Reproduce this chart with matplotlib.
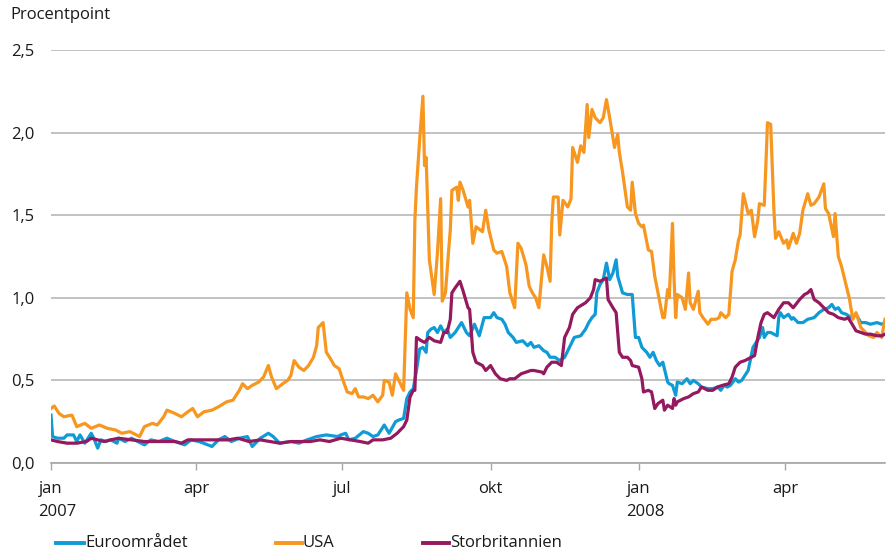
import matplotlib
matplotlib.use('Agg')
import matplotlib.pyplot as plt
from matplotlib.lines import Line2D
import pandas as pd

plt.rcParams['font.family'] = ['Open Sans', 'DejaVu Sans']

# ---------------- data ----------------
usa_dates = [
 "2007-01-01","2007-01-03","2007-01-06","2007-01-09","2007-01-14","2007-01-17","2007-01-22","2007-01-26",
 "2007-01-31","2007-02-05","2007-02-10","2007-02-14","2007-02-19","2007-02-25","2007-02-28","2007-03-05",
 "2007-03-08","2007-03-12","2007-03-14","2007-03-19","2007-03-23","2007-03-27","2007-03-30","2007-04-02",
 "2007-04-06","2007-04-11","2007-04-15","2007-04-20","2007-04-24","2007-04-28","2007-04-30","2007-05-03",
 "2007-05-06","2007-05-10","2007-05-13","2007-05-16","2007-05-18","2007-05-21","2007-05-25","2007-05-28",
 "2007-05-30","2007-06-01","2007-06-04","2007-06-07","2007-06-10","2007-06-13","2007-06-15","2007-06-16",
 "2007-06-19","2007-06-21","2007-06-23","2007-06-26","2007-06-29","2007-07-01","2007-07-04","2007-07-07",
 "2007-07-09","2007-07-11","2007-07-14","2007-07-17","2007-07-20","2007-07-23","2007-07-26","2007-07-27",
 "2007-07-30","2007-08-01","2007-08-03","2007-08-05","2007-08-08","2007-08-10","2007-08-12","2007-08-14",
 "2007-08-15","2007-08-16","2007-08-18","2007-08-20","2007-08-21","2007-08-22","2007-08-24","2007-08-27",
 "2007-08-29","2007-08-31","2007-09-01","2007-09-03","2007-09-05","2007-09-06","2007-09-07","2007-09-10",
 "2007-09-11","2007-09-12","2007-09-14","2007-09-17","2007-09-18","2007-09-20","2007-09-22","2007-09-26",
 "2007-09-28","2007-09-30","2007-10-03","2007-10-05","2007-10-08","2007-10-11","2007-10-13","2007-10-16",
 "2007-10-18","2007-10-20","2007-10-23","2007-10-25","2007-10-27","2007-10-29","2007-10-31","2007-11-03",
 "2007-11-05","2007-11-07","2007-11-08","2007-11-09","2007-11-12","2007-11-13","2007-11-15","2007-11-18",
 "2007-11-20","2007-11-21","2007-11-24","2007-11-26","2007-11-28","2007-11-30","2007-12-01","2007-12-03",
 "2007-12-05","2007-12-08","2007-12-10","2007-12-12","2007-12-14","2007-12-17","2007-12-19","2007-12-20",
 "2007-12-22","2007-12-25","2007-12-27","2007-12-28","2007-12-30","2008-01-01","2008-01-03","2008-01-04",
 "2008-01-07","2008-01-09","2008-01-11","2008-01-13","2008-01-16","2008-01-17","2008-01-19","2008-01-20",
 "2008-01-22","2008-01-23","2008-01-24","2008-01-25","2008-01-28","2008-01-30","2008-02-01","2008-02-02",
 "2008-02-04","2008-02-07","2008-02-08","2008-02-10","2008-02-13","2008-02-15","2008-02-18","2008-02-20",
 "2008-02-21","2008-02-24","2008-02-26","2008-02-28","2008-03-01","2008-03-03","2008-03-04","2008-03-06",
 "2008-03-09","2008-03-11","2008-03-13","2008-03-15","2008-03-16","2008-03-19","2008-03-20","2008-03-21",
 "2008-03-23","2008-03-25","2008-03-26","2008-03-28","2008-03-31","2008-04-02","2008-04-03","2008-04-06",
 "2008-04-08","2008-04-10","2008-04-12","2008-04-15","2008-04-17","2008-04-19","2008-04-22","2008-04-25",
 "2008-04-26","2008-04-28","2008-05-01","2008-05-02","2008-05-04","2008-05-06","2008-05-09","2008-05-11",
 "2008-05-13","2008-05-15","2008-05-18","2008-05-23","2008-05-26","2008-05-28","2008-05-31","2008-06-01",
 "2008-06-02"]
usa_values = [
 0.33,0.345,0.30,0.28,0.29,0.22,0.24,0.21,
 0.23,0.21,0.20,0.18,0.19,0.16,0.22,0.24,
 0.23,0.28,0.32,0.30,0.28,0.31,0.33,0.28,
 0.31,0.32,0.34,0.37,0.38,0.44,0.48,0.45,
 0.47,0.49,0.52,0.59,0.52,0.45,0.48,0.50,
 0.53,0.62,0.58,0.56,0.59,0.64,0.71,0.82,
 0.85,0.67,0.64,0.59,0.57,0.51,0.43,0.42,
 0.45,0.40,0.40,0.39,0.41,0.37,0.41,0.50,
 0.49,0.41,0.54,0.50,0.44,1.03,0.93,0.88,
 1.47,1.67,1.96,2.22,1.80,1.85,1.23,1.02,
 1.27,1.60,0.98,1.03,1.29,1.41,1.65,1.67,
 1.59,1.70,1.65,1.55,1.59,1.33,1.43,1.40,
 1.53,1.41,1.29,1.27,1.28,1.19,1.03,0.94,
 1.33,1.30,1.20,1.07,1.03,1.00,0.94,1.26,
 1.19,1.10,1.45,1.61,1.61,1.38,1.59,1.55,
 1.60,1.91,1.82,1.92,1.88,2.17,1.97,2.14,
 2.09,2.06,2.09,2.20,2.09,1.91,1.99,1.88,
 1.76,1.55,1.53,1.70,1.51,1.45,1.43,1.44,
 1.29,1.28,1.13,1.03,0.88,0.88,1.05,1.00,
 1.45,1.11,0.88,1.02,1.00,0.93,1.15,0.97,
 0.93,1.04,0.91,0.88,0.84,0.87,0.87,0.88,
 0.91,0.88,0.90,1.16,1.23,1.35,1.38,1.63,
 1.51,1.53,1.37,1.47,1.57,1.56,1.80,2.06,
 2.05,1.53,1.36,1.40,1.33,1.35,1.30,1.39,
 1.33,1.39,1.53,1.63,1.56,1.57,1.61,1.69,
 1.54,1.51,1.37,1.51,1.25,1.19,1.07,0.99,
 0.87,0.91,0.82,0.77,0.76,0.79,0.76,0.82,
 0.87]

euro_dates = [
 "2007-01-01","2007-01-02","2007-01-05","2007-01-09","2007-01-11","2007-01-15","2007-01-17","2007-01-19",
 "2007-01-22","2007-01-26","2007-01-28","2007-01-30","2007-02-01","2007-02-04","2007-02-07","2007-02-11",
 "2007-02-12","2007-02-16","2007-02-20","2007-02-24","2007-02-28","2007-03-04","2007-03-09","2007-03-14",
 "2007-03-19","2007-03-25","2007-03-29","2007-04-03","2007-04-11","2007-04-15","2007-04-19","2007-04-23",
 "2007-04-28","2007-05-03","2007-05-06","2007-05-11","2007-05-16","2007-05-19","2007-05-23","2007-05-30",
 "2007-06-04","2007-06-09","2007-06-15","2007-06-21","2007-06-28","2007-06-30","2007-07-03","2007-07-05",
 "2007-07-09","2007-07-14","2007-07-17","2007-07-20","2007-07-23","2007-07-27","2007-07-30","2007-08-03",
 "2007-08-05","2007-08-08","2007-08-10","2007-08-12","2007-08-14","2007-08-16","2007-08-18","2007-08-20",
 "2007-08-22","2007-08-23","2007-08-25","2007-08-27","2007-08-29","2007-08-31","2007-09-02","2007-09-04",
 "2007-09-06","2007-09-09","2007-09-13","2007-09-16","2007-09-18","2007-09-21","2007-09-24","2007-09-27",
 "2007-10-01","2007-10-03","2007-10-05","2007-10-08","2007-10-10","2007-10-12","2007-10-15","2007-10-17",
 "2007-10-21","2007-10-24","2007-10-26","2007-10-28","2007-10-31","2007-11-03","2007-11-05","2007-11-07",
 "2007-11-10","2007-11-13","2007-11-16","2007-11-19","2007-11-22","2007-11-26","2007-11-29","2007-12-01",
 "2007-12-03","2007-12-05","2007-12-06","2007-12-08","2007-12-10","2007-12-11","2007-12-12","2007-12-14",
 "2007-12-16","2007-12-18","2007-12-19","2007-12-22","2007-12-25","2007-12-28","2007-12-30","2008-01-01",
 "2008-01-03","2008-01-06","2008-01-08","2008-01-10","2008-01-12","2008-01-14","2008-01-16","2008-01-19",
 "2008-01-20","2008-01-22","2008-01-24","2008-01-25","2008-01-28","2008-01-31","2008-02-02","2008-02-04",
 "2008-02-07","2008-02-09","2008-02-13","2008-02-16","2008-02-19","2008-02-21","2008-02-23","2008-02-25",
 "2008-02-27","2008-03-01","2008-03-03","2008-03-05","2008-03-09","2008-03-12","2008-03-14","2008-03-16",
 "2008-03-18","2008-03-19","2008-03-21","2008-03-23","2008-03-25","2008-03-27","2008-03-28","2008-03-29",
 "2008-03-31","2008-04-03","2008-04-05","2008-04-06","2008-04-09","2008-04-12","2008-04-15","2008-04-19",
 "2008-04-22","2008-04-25","2008-04-28","2008-04-30","2008-05-02","2008-05-04","2008-05-06","2008-05-09",
 "2008-05-12","2008-05-15","2008-05-18","2008-05-21","2008-05-24","2008-05-28","2008-05-31","2008-06-02"]
euro_values = [
 0.29,0.16,0.15,0.15,0.17,0.17,0.13,0.17,
 0.12,0.18,0.14,0.09,0.14,0.13,0.14,0.12,
 0.15,0.13,0.15,0.13,0.11,0.14,0.13,0.15,
 0.13,0.11,0.14,0.13,0.10,0.14,0.16,0.13,
 0.15,0.16,0.10,0.15,0.18,0.16,0.12,0.13,
 0.12,0.14,0.16,0.17,0.16,0.17,0.18,0.14,
 0.15,0.19,0.18,0.16,0.17,0.23,0.18,0.25,
 0.26,0.27,0.39,0.43,0.45,0.56,0.69,0.70,
 0.67,0.79,0.81,0.82,0.79,0.83,0.79,0.81,
 0.76,0.79,0.85,0.79,0.77,0.84,0.77,0.88,
 0.88,0.91,0.88,0.87,0.84,0.79,0.76,0.73,
 0.74,0.71,0.73,0.70,0.71,0.68,0.67,0.64,
 0.64,0.62,0.64,0.70,0.76,0.77,0.81,0.85,
 0.88,0.90,1.03,1.08,1.11,1.16,1.21,1.11,
 1.15,1.23,1.13,1.03,1.02,1.02,0.76,0.76,
 0.70,0.67,0.64,0.67,0.62,0.59,0.61,0.49,
 0.48,0.47,0.41,0.49,0.48,0.51,0.48,0.50,
 0.48,0.46,0.45,0.45,0.46,0.44,0.47,0.46,
 0.47,0.51,0.49,0.50,0.56,0.70,0.73,0.76,
 0.82,0.76,0.79,0.79,0.78,0.77,0.88,0.91,
 0.88,0.90,0.87,0.88,0.85,0.85,0.87,0.88,
 0.91,0.93,0.94,0.96,0.93,0.94,0.91,0.90,
 0.88,0.90,0.85,0.85,0.84,0.85,0.84,0.85]

uk_dates = [
 "2007-01-01","2007-01-05","2007-01-11","2007-01-17","2007-01-23","2007-01-26","2007-01-30","2007-02-03",
 "2007-02-07","2007-02-12","2007-02-20","2007-02-28","2007-03-06","2007-03-12","2007-03-19","2007-03-23",
 "2007-03-27","2007-04-04","2007-04-15","2007-04-21","2007-04-27","2007-05-04","2007-05-11","2007-05-17",
 "2007-05-23","2007-05-30","2007-06-04","2007-06-11","2007-06-17","2007-06-23","2007-06-30","2007-07-06",
 "2007-07-12","2007-07-17","2007-07-20","2007-07-26","2007-07-31","2007-08-04","2007-08-08","2007-08-10",
 "2007-08-12","2007-08-14","2007-08-15","2007-08-16","2007-08-19","2007-08-21","2007-08-24","2007-08-27",
 "2007-08-31","2007-09-02","2007-09-04","2007-09-06","2007-09-07","2007-09-09","2007-09-12","2007-09-14",
 "2007-09-17","2007-09-18","2007-09-20","2007-09-22","2007-09-26","2007-09-28","2007-10-01","2007-10-04",
 "2007-10-07","2007-10-11","2007-10-13","2007-10-16","2007-10-20","2007-10-23","2007-10-26","2007-10-28",
 "2007-11-02","2007-11-03","2007-11-05","2007-11-08","2007-11-11","2007-11-14","2007-11-16","2007-11-19",
 "2007-11-21","2007-11-24","2007-11-29","2007-12-02","2007-12-04","2007-12-05","2007-12-08","2007-12-10",
 "2007-12-12","2007-12-13","2007-12-16","2007-12-18","2007-12-20","2007-12-22","2007-12-25","2007-12-27",
 "2007-12-28","2008-01-01","2008-01-03","2008-01-04","2008-01-07","2008-01-09","2008-01-11","2008-01-13",
 "2008-01-16","2008-01-17","2008-01-19","2008-01-22","2008-01-23","2008-01-24","2008-01-25","2008-01-29",
 "2008-02-01","2008-02-04","2008-02-07","2008-02-09","2008-02-13","2008-02-16","2008-02-19","2008-02-22",
 "2008-02-26","2008-02-28","2008-03-01","2008-03-04","2008-03-07","2008-03-11","2008-03-13","2008-03-15",
 "2008-03-17","2008-03-19","2008-03-21","2008-03-25","2008-03-28","2008-03-31","2008-04-03","2008-04-06",
 "2008-04-10","2008-04-13","2008-04-15","2008-04-17","2008-04-19","2008-04-22","2008-04-25","2008-04-28",
 "2008-05-01","2008-05-04","2008-05-08","2008-05-10","2008-05-12","2008-05-15","2008-05-18","2008-05-21",
 "2008-05-24","2008-05-28","2008-05-31","2008-06-02"]
uk_values = [
 0.14,0.13,0.12,0.12,0.13,0.15,0.14,0.13,
 0.14,0.15,0.14,0.13,0.13,0.13,0.13,0.12,
 0.14,0.14,0.14,0.14,0.15,0.13,0.14,0.13,
 0.12,0.13,0.13,0.13,0.14,0.13,0.15,0.14,
 0.13,0.12,0.14,0.14,0.15,0.18,0.22,0.26,
 0.40,0.44,0.44,0.76,0.74,0.73,0.76,0.74,
 0.73,0.79,0.79,0.87,1.03,1.06,1.10,1.04,
 0.94,0.93,0.67,0.61,0.59,0.56,0.59,0.54,
 0.51,0.50,0.51,0.51,0.54,0.55,0.56,0.56,
 0.55,0.54,0.58,0.61,0.61,0.59,0.76,0.82,
 0.90,0.94,0.97,1.00,1.05,1.11,1.10,1.11,
 1.12,0.99,0.94,0.91,0.67,0.64,0.64,0.62,
 0.59,0.58,0.51,0.43,0.44,0.43,0.33,0.36,
 0.38,0.32,0.35,0.33,0.39,0.35,0.37,0.39,
 0.40,0.42,0.43,0.46,0.44,0.44,0.46,0.47,
 0.48,0.52,0.58,0.61,0.62,0.64,0.65,0.76,
 0.85,0.90,0.91,0.88,0.93,0.97,0.97,0.94,
 0.99,1.02,1.03,1.05,0.99,0.97,0.94,0.91,
 0.90,0.88,0.87,0.88,0.85,0.80,0.79,0.78,
 0.78,0.77,0.77,0.78]

series_names = ["Euroområdet", "USA", "Storbritannien"]
series_colors = ["#0e9bd6", "#f7971f", "#94195e"]

tick_dates = ["2007-01-01", "2007-04-01", "2007-07-01", "2007-10-01", "2008-01-01", "2008-04-01"]
tick_labels = ["jan", "apr", "jul", "okt", "jan", "apr"]
year_labels = {"2007-01-01": "2007", "2008-01-01": "2008"}
y_ticks = [0.0, 0.5, 1.0, 1.5, 2.0, 2.5]
y_tick_labels = ["0,0", "0,5", "1,0", "1,5", "2,0", "2,5"]

# ---------------- figure ----------------
W, H = 886, 553
FS = 12
TXT = "#1a1a1a"
fig = plt.figure(figsize=(W / 100, H / 100), dpi=100)
ax = fig.add_axes([51 / W, 1 - 463 / H, (885 - 51) / W, (463 - 50) / H])

data = [(euro_dates, euro_values), (usa_dates, usa_values), (uk_dates, uk_values)]
for (d, v), name, col in zip(data, series_names, series_colors):
    ax.plot(pd.to_datetime(d), v, color=col, lw=2.3, solid_joinstyle='round', label=name)

ax.set_xlim(pd.Timestamp("2007-01-01"), pd.Timestamp("2008-06-02"))
ax.set_ylim(0, 2.5)

ax.set_yticks(y_ticks)
ax.set_yticklabels(y_tick_labels)
ax.set_xticks(pd.to_datetime(tick_dates))
ax.set_xticklabels(tick_labels)

ax.yaxis.grid(True, color="#b7b7b7", lw=1.2)
ax.set_axisbelow(True)
for s in ["left", "right", "top"]:
    ax.spines[s].set_visible(False)
ax.spines["bottom"].set_color("#a6a6a6")
ax.spines["bottom"].set_linewidth(1.2)

ax.tick_params(axis="y", length=0, pad=12, labelsize=FS, colors=TXT)
ax.tick_params(axis="x", length=5, width=1.0, color="#a6a6a6", pad=8,
               labelsize=FS, labelcolor=TXT)

for d, yl in year_labels.items():
    ax.annotate(yl, xy=(pd.Timestamp(d), 0), xycoords=("data", "axes fraction"),
                xytext=(-9, -35), textcoords="offset points",
                ha="left", va="center", fontsize=FS, color=TXT)

fig.text(10 / W, 1 - 15 / H, "Procentpoint", ha="left", va="center",
         fontsize=FS, color=TXT)

# legend (manual, bottom)
leg_y = 1 - 543 / H
leg_x = [(56, 84), (276, 302), (423, 449)]
for (x0, x1), name, col in zip(leg_x, series_names, series_colors):
    fig.add_artist(Line2D([x0 / W, x1 / W], [leg_y, leg_y], transform=fig.transFigure,
                          color=col, lw=2.8))
    fig.text((x1 + 1) / W, leg_y, name, ha="left", va="center", fontsize=FS, color=TXT)

fig.savefig("out.png", dpi=100)
